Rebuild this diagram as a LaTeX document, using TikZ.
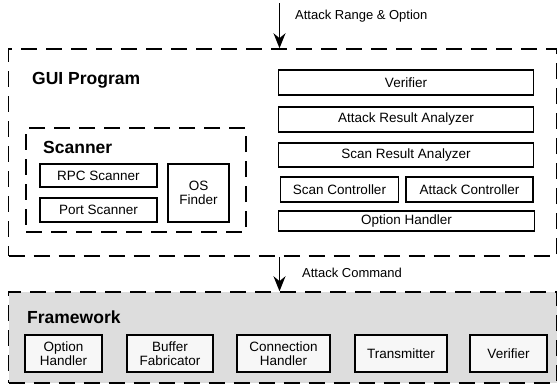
\documentclass[tikz,border=0pt]{standalone}
\usepackage{fontspec}
\setmainfont{Liberation Sans}
\usetikzlibrary{arrows.meta}
\begin{document}
\begin{tikzpicture}[x=1pt,y=-1pt,
  box/.style={draw, line width=1.3pt, rectangle, inner sep=1pt, align=center,
    font=\fontsize{13.5}{14.5}\selectfont},
  group/.style={draw, line width=1.5pt, dash pattern=on 16pt off 9pt, rectangle, inner sep=0pt},
  title/.style={anchor=west, inner sep=0pt, font=\fontsize{17.5}{19}\selectfont\bfseries},
  note/.style={anchor=west, inner sep=0pt, font=\fontsize{13}{14}\selectfont},
  flow/.style={line width=1.3pt, -{Stealth[length=15pt,width=12pt]}}]
\useasboundingbox (0,0) rectangle (559,388);

% containers
\node[group, minimum width=548pt, minimum height=207pt] (gui) at (282.5,152.5) {};
\node[group, minimum width=220pt, minimum height=104pt] (scanner) at (136,180) {};
\node[group, fill=gray!27, minimum width=548pt, minimum height=91pt] (fw) at (282.5,337.5) {};

% titles
\node[title] (guit) at (32,80) {GUI Program};
\node[title] (scant) at (43,147) {Scanner};
\node[title] (fwt) at (27,317) {Framework};

% scanner parts
\node[box, minimum width=117pt, minimum height=23pt] (rpc) at (98.5,175.5) {RPC Scanner};
\node[box, minimum width=117pt, minimum height=24pt] (port) at (98.5,210) {Port Scanner};
\node[box, minimum width=61pt, minimum height=58pt] (os) at (198.5,193) {OS\\Finder};

% GUI modules
\node[box, minimum width=255pt, minimum height=25pt] (ver) at (406,82.5) {Verifier};
\node[box, minimum width=255pt, minimum height=25pt] (ara) at (406,119.5) {Attack Result Analyzer};
\node[box, minimum width=255pt, minimum height=24pt] (sra) at (406,155) {Scan Result Analyzer};
\node[box, minimum width=118pt, minimum height=25pt] (sc) at (339.5,189.5) {Scan Controller};
\node[box, minimum width=127pt, minimum height=25pt] (ac) at (469.5,189.5) {Attack Controller};
\node[box, minimum width=256pt, minimum height=20pt] (oh) at (406.5,221) {Option Handler};

% framework modules
\node[box, fill=gray!6, minimum width=77pt, minimum height=37pt] (foh) at (63.5,353.5) {Option\\Handler};
\node[box, fill=gray!6, minimum width=86pt, minimum height=37pt] (fbf) at (170,353.5) {Buffer\\Fabricator};
\node[box, fill=gray!6, minimum width=93pt, minimum height=37pt] (fch) at (283.5,353.5) {Connection\\Handler};
\node[box, fill=gray!6, minimum width=92pt, minimum height=37pt] (ftx) at (401,353.5) {Transmitter};
\node[box, fill=gray!6, minimum width=77pt, minimum height=37pt] (fvr) at (508.5,353.5) {Verifier};

% inputs and commands
\coordinate (src) at (279.5,3);
\draw[flow] (src) -- (src |- gui.north);
\node[note] (rng) at (295,16) {Attack Range \& Option};
\draw[flow] (src |- gui.south) -- (src |- fw.north);
\node[note] (cmd) at (302,273) {Attack Command};
\end{tikzpicture}
\end{document}
